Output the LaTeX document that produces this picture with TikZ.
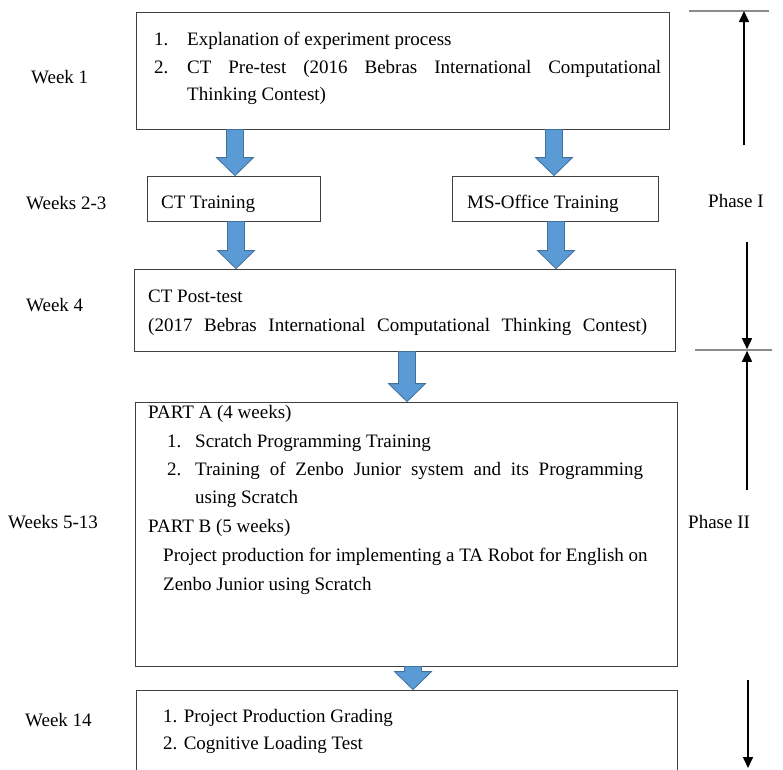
\documentclass[tikz,border=0pt]{standalone}
\usepackage{fontspec}
\setmainfont{Liberation Serif}
\usetikzlibrary{calc, arrows.meta}

\definecolor{arrowblue}{HTML}{5B9BD5}
\definecolor{arrowedge}{HTML}{41719C}
\definecolor{boxgray}{HTML}{404040}
\definecolor{rulegray}{HTML}{8C8C8C}

% block arrow from the bottom of one box to the top of the next, at a given x
\newcommand{\blockarrow}[3]{%
  \path[barrow] let \p1=(#2.south), \p2=(#3.north) in
    (#1pt-8.5pt,\y1) -- (#1pt+8.5pt,\y1) -- (#1pt+8.5pt,\y2+18pt) -- (#1pt+18.5pt,\y2+18pt)
    -- (#1pt,\y2) -- (#1pt-18.5pt,\y2+18pt) -- (#1pt-8.5pt,\y2+18pt) -- cycle;}
% justified (stretched) line of a given width
\newcommand{\fullline}[2]{\makebox[#1][s]{#2}}

\begin{document}
\begin{tikzpicture}[x=1pt, y=-1pt, font=\fontsize{19}{23}\selectfont,
  box/.style={draw=boxgray, line width=0.8pt, inner sep=0pt},
  txt/.style={anchor=base west, inner sep=0pt},
  barrow/.style={fill=arrowblue, draw=arrowedge, line width=0.8pt},
  phasearrow/.style={line width=1.5pt, -{Triangle[width=10pt,length=11pt]}},
  phaserule/.style={draw=rulegray, line width=1.2pt}]
\useasboundingbox (0,0) rectangle (783,769);
% boxes
\node[box, minimum width=533pt, minimum height=117pt] (week1) at (402.5,70.5) {};
\node[box, minimum width=173pt, minimum height=45pt] (cttrain) at (233.5,198.5) {};
\node[box, minimum width=206pt, minimum height=45pt] (mstrain) at (555,198.5) {};
\node[box, minimum width=541pt, minimum height=82pt] (week4) at (404.5,310) {};
\node[box, minimum width=542pt, minimum height=264pt] (week5) at (406,534) {};
\node[box, minimum width=541pt, minimum height=100pt] (week14) at (406.5,740) {};
% week labels
\node[txt] (lw1) at (31,83) {Week 1};
\node[txt] (lw2) at (26,209) {Weeks 2-3};
\node[txt] (lw4) at (26,311) {Week 4};
\node[txt] (lw5) at (8,528) {Weeks 5-13};
\node[txt] (lw14) at (25,726) {Week 14};
% box texts
\node[txt] (n1a) at (154,45) {1.};
\node[txt] (t1a) at (187,45) {Explanation of experiment process};
\node[txt] (n1b) at (154,73) {2.};
\node[txt] (t1b) at (187,73) {\fullline{474pt}{CT Pre-test (2016 Bebras International Computational}};
\node[txt] (t1c) at (187,100) {Thinking Contest)};
\node[txt] (tct) at (161,208) {CT Training};
\node[txt] (tms) at (467,208) {MS-Office Training};
\node[txt] (t4a) at (148,302) {CT Post-test};
\node[txt] (t4b) at (148,331) {\fullline{499pt}{(2017 Bebras International Computational Thinking Contest)}};
\node[txt] (t5a) at (148,418) {PART A (4 weeks)};
\node[txt] (n5b) at (167,447) {1.};
\node[txt] (t5b) at (195,447) {Scratch Programming Training};
\node[txt] (n5c) at (167,475) {2.};
\node[txt] (t5c) at (195,475) {\fullline{448pt}{Training of Zenbo Junior system and its Programming}};
\node[txt] (t5d) at (195,503) {using Scratch};
\node[txt] (t5e) at (148,532) {PART B (5 weeks)};
\node[txt] (t5f) at (163,561) {Project production for implementing a TA Robot for English on};
\node[txt] (t5g) at (163,590) {Zenbo Junior using Scratch};
\node[txt] (t6a) at (163,722) {1. Project Production Grading};
\node[txt] (t6b) at (163,749) {2. Cognitive Loading Test};
% phases
\node[txt] (ph1) at (708,207) {Phase I};
\node[txt] (ph2) at (688,528) {Phase II};
\coordinate (r1a) at (689,11);
\coordinate (r1b) at (769,11);
\coordinate (r2a) at (695,350);
\coordinate (r2b) at (772,350);
\draw[phaserule] (r1a) -- (r1b);
\draw[phaserule] (r2a) -- (r2b);
\coordinate (a1) at (744,145);
\coordinate (a2) at (747,242);
\coordinate (a3) at (747,490);
\coordinate (a4) at (748,680);
\draw[phasearrow] (a1) -- (r1a -| a1);
\draw[phasearrow] (a2) -- ([yshift=0.8pt]r2a -| a2);
\draw[phasearrow] (a3) -- ([yshift=-0.8pt]r2a -| a3);
\draw[phasearrow] (a4) -- (748,768);
% block arrows
\blockarrow{235}{week1}{cttrain}
\blockarrow{554}{week1}{mstrain}
\blockarrow{236}{cttrain}{week4}
\blockarrow{556}{mstrain}{week4}
\blockarrow{407}{week4}{week5}
\blockarrow{413}{week5}{week14}
\end{tikzpicture}
\end{document}
